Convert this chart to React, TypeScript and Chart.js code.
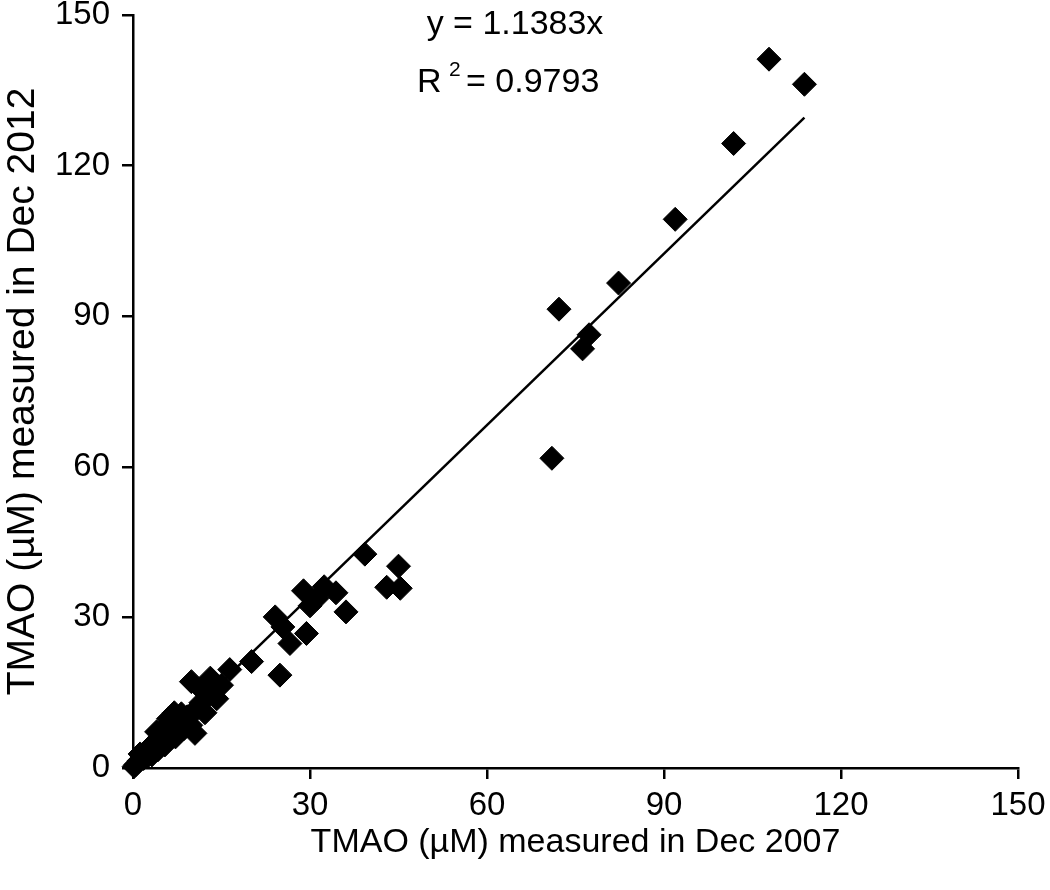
import React, { useEffect, useRef } from "react";
import { Chart, registerables } from "chart.js";

Chart.register(...registerables);

// TMAO measured in Dec 2007 (x) vs Dec 2012 (y), µM
const x2007: number[] = [
  107.8, 113.8, 101.8, 91.9, 82.3, 72.2, 77.3, 76.2, 71.0,
  39.3, 45.0, 43.0, 45.3, 36.1, 34.4, 32.4, 28.9, 30.0, 31.2,
  24.1, 25.4, 26.6, 29.4, 24.9, 20.1, 16.4, 13.1, 9.9, 14.2,
  10.5, 12.0, 11.0, 8.2, 7.0, 6.4, 5.0, 4.6, 3.6, 2.9, 2.2,
  1.5, 1.0, 0.5, 0.2, 1.8, 3.8, 5.8, 7.8, 9.2, 10.3, 12.8,
  15.0, 4.2, 6.8, 8.8, 2.6, 11.5, 3.2, 5.4, 7.2, 8.6, 1.2,
  4.0, 6.0, 9.8, 12.2,
];
const y2012: number[] = [
  141.2, 136.2, 124.4, 109.3, 96.6, 91.4, 86.3, 83.5, 61.7,
  42.6, 40.2, 36.0, 35.8, 31.1, 34.9, 36.1, 35.3, 32.3, 33.8,
  30.1, 28.1, 24.8, 26.8, 18.5, 21.2, 19.6, 17.9, 17.2, 13.8,
  6.9, 15.2, 12.0, 10.8, 11.0, 9.0, 7.6, 6.2, 5.0, 4.2, 3.2,
  2.4, 1.4, 0.7, 0.3, 1.9, 4.2, 6.4, 8.6, 10.2, 11.2, 14.5,
  16.5, 3.6, 7.2, 9.0, 2.5, 13.0, 2.6, 4.6, 6.2, 7.8, 2.8,
  7.2, 9.8, 8.5, 11.0,
];
const slope = 1.1383;
const rSquared = "0.9793";
const axisTicks: number[] = [0, 30, 60, 90, 120, 150];
const xTitle = "TMAO (\u00b5M) measured in Dec 2007";
const yTitle = "TMAO (\u00b5M) measured in Dec 2012";

const FONT = '"Liberation Sans", Arial, Helvetica, sans-serif';

const equationPlugin = {
  id: "equation",
  afterDraw(chart: any) {
    const ctx = chart.ctx as CanvasRenderingContext2D;
    ctx.save();
    ctx.fillStyle = "#000";
    ctx.textBaseline = "middle";
    ctx.font = `34px ${FONT}`;
    ctx.textAlign = "center";
    ctx.fillText(`y = ${slope}x`, 515, 25);
    ctx.textAlign = "left";
    ctx.fillText("R", 417, 83);
    ctx.font = `21px ${FONT}`;
    ctx.fillText("2", 449, 70);
    ctx.font = `34px ${FONT}`;
    ctx.fillText(`= ${rSquared}`, 466, 83);
    ctx.restore();
  },
};

export default function App() {
  const ref = useRef<HTMLCanvasElement | null>(null);

  useEffect(() => {
    if (!ref.current) return;
    const pts = x2007.map((x, i) => ({ x, y: y2012[i] }));
    const xMax = Math.max(...x2007);
    const trend = [
      { x: 0, y: 0 },
      { x: xMax, y: slope * xMax },
    ];
    const tickFont = { family: FONT, size: 33, lineHeight: 1 };
    const chart = new Chart(ref.current, {
      type: "scatter",
      data: {
        datasets: [
          {
            type: "line",
            data: trend,
            borderColor: "#000",
            borderWidth: 2.5,
            pointRadius: 0,
            fill: false,
          } as any,
          {
            data: pts,
            pointStyle: "rectRot",
            pointRadius: 12,
            pointBorderWidth: 1,
            backgroundColor: "#000",
            borderColor: "#000",
            clip: false,
          } as any,
        ],
      },
      options: {
        responsive: false,
        animation: false,
        devicePixelRatio: 1,
        layout: { padding: { left: 0, right: 32, top: 15, bottom: 0 } },
        plugins: {
          legend: { display: false },
          tooltip: { enabled: false },
        },
        scales: {
          x: {
            type: "linear",
            min: 0,
            max: 150,
            afterBuildTicks: (s: any) => {
              s.ticks = axisTicks.map((v) => ({ value: v }));
            },
            afterFit: (s: any) => {
              s.height = 122;
              s.paddingLeft = 0;
              s.paddingRight = 0;
            },
            border: { display: true, color: "#000", width: 2.5 },
            grid: {
              display: true,
              drawOnChartArea: false,
              drawTicks: true,
              tickLength: 11,
              color: "#000",
              lineWidth: 2.5,
            },
            ticks: {
              color: "#000",
              font: tickFont,
              padding: 10,
              maxRotation: 0,
            },
            title: {
              display: true,
              text: xTitle,
              color: "#000",
              font: { family: FONT, size: 34 },
              padding: { top: 0, bottom: 27 },
            },
          },
          y: {
            type: "linear",
            min: 0,
            max: 150,
            afterBuildTicks: (s: any) => {
              s.ticks = axisTicks.map((v) => ({ value: v }));
            },
            afterFit: (s: any) => {
              s.width = 133;
              s.paddingTop = 0;
              s.paddingBottom = 0;
            },
            border: { display: true, color: "#000", width: 2.5 },
            grid: {
              display: true,
              drawOnChartArea: false,
              drawTicks: true,
              tickLength: 11,
              color: "#000",
              lineWidth: 2.5,
            },
            ticks: {
              color: "#000",
              font: tickFont,
              padding: 12,
            },
            title: {
              display: true,
              text: yTitle,
              color: "#000",
              font: { family: FONT, size: 39 },
              padding: { top: 0, bottom: 0 },
            },
          },
        },
      },
      plugins: [equationPlugin],
    });
    return () => chart.destroy();
  }, []);

  return (
    <div
      style={{
        position: "fixed",
        left: 0,
        top: 0,
        width: 1050,
        height: 890,
        background: "#fff",
      }}
    >
      <canvas ref={ref} width={1050} height={890} />
    </div>
  );
}
